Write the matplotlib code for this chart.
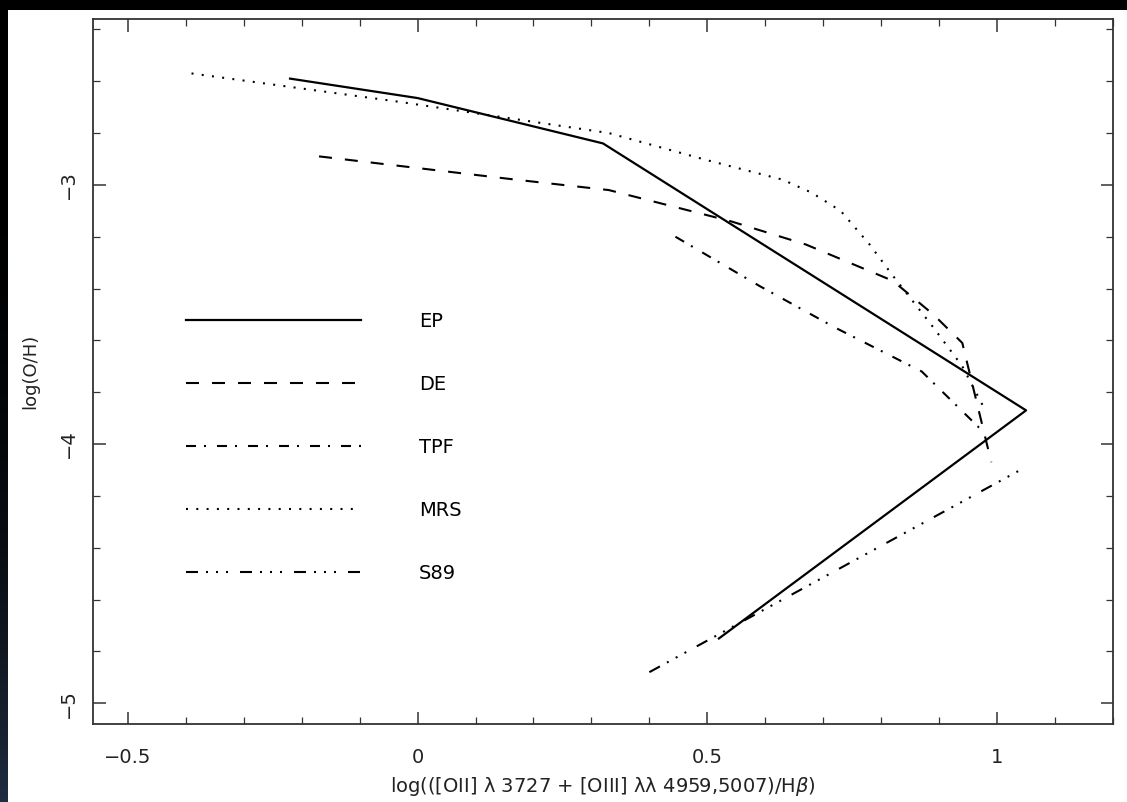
import matplotlib
matplotlib.use('Agg')
import matplotlib.pyplot as plt
from matplotlib.ticker import MultipleLocator, FuncFormatter
from matplotlib.colors import LinearSegmentedColormap
import numpy as np

# calibration curves: log R23 vs log(O/H)
ep_x = [-0.22, 0.0, 0.32, 1.05, 0.52]
ep_y = [-2.59, -2.665, -2.84, -3.87, -4.75]

de_x = [-0.17, 0.17, 0.33, 0.54, 0.67, 0.82, 0.89, 0.94, 0.99]
de_y = [-2.89, -2.98, -3.02, -3.14, -3.23, -3.37, -3.50, -3.61, -4.07]

tpf_x = [0.445, 0.59, 0.72, 0.87, 0.975]
tpf_y = [-3.20, -3.39, -3.55, -3.72, -3.95]

mrs_x = [-0.39, -0.03, 0.33, 0.50, 0.63, 0.68, 0.73, 0.78, 0.82, 0.89, 0.94, 0.975]
mrs_y = [-2.57, -2.68, -2.80, -2.905, -2.98, -3.03, -3.10, -3.23, -3.35, -3.55, -3.70, -3.85]

s89_x = [0.40, 1.04]
s89_y = [-4.88, -4.10]

labels = ['EP', 'DE', 'TPF', 'MRS', 'S89']

plt.rcParams['lines.scale_dashes'] = False
plt.rcParams['font.family'] = 'DejaVu Sans'

W, H = 1127, 802
fig = plt.figure(figsize=(W / 100, H / 100), dpi=100, facecolor='white')

# dark border strips (top and left)
top = fig.add_axes([0, 1 - 10 / H, 1, 10 / H])
top.set_facecolor('black')
top.set_xticks([])
top.set_yticks([])
for s in top.spines.values():
    s.set_visible(False)
left = fig.add_axes([0, 0, 8 / W, 1 - 10 / H])
grad = np.linspace(0, 1, 200).reshape(-1, 1) ** 3
left.imshow(grad, aspect='auto', origin='upper',
            cmap=LinearSegmentedColormap.from_list('strip', ['black', '#1f2d40']))
left.axis('off')

ax = fig.add_axes([93 / W, (H - 724) / H, (1113 - 93) / W, (724 - 19) / H])

px = 0.72  # points per pixel
ax.plot(ep_x, ep_y, color='black', lw=1.6, ls='-', label=labels[0])
ax.plot(de_x, de_y, color='black', lw=1.5, ls=(0, (13 * px, 13 * px)), label=labels[1])
ax.plot(tpf_x, tpf_y, color='black', lw=1.5,
        ls=(0, (10 * px, 8 * px, 2 * px, 11 * px)), label=labels[2])
ax.plot(mrs_x, mrs_y, color='black', lw=1.5, ls=(0, (2 * px, 8.3 * px)), label=labels[3])
ax.plot(s89_x, s89_y, color='black', lw=1.5,
        ls=(0, (12 * px, 8 * px, 2 * px, 8 * px, 2 * px, 8 * px, 2 * px, 12 * px)), label=labels[4])

ax.set_xlim(-0.56, 1.2)
ax.set_ylim(-5.08, -2.36)


def fmt(v, pos):
    if abs(v) < 1e-9:
        return '0'
    return ('%g' % v).replace('-', '\u2212')


ax.xaxis.set_major_locator(MultipleLocator(0.5))
ax.xaxis.set_minor_locator(MultipleLocator(0.1))
ax.yaxis.set_major_locator(MultipleLocator(1))
ax.yaxis.set_minor_locator(MultipleLocator(0.2))
ax.xaxis.set_major_formatter(FuncFormatter(fmt))
ax.yaxis.set_major_formatter(FuncFormatter(fmt))
ax.tick_params(which='both', direction='in', top=True, right=True, labelsize=14,
               color='#333333', labelcolor='#222222')
ax.tick_params(which='major', length=9, width=1.1)
ax.tick_params(which='minor', length=5, width=0.9)
ax.tick_params(axis='x', which='major', pad=17)
ax.tick_params(axis='y', which='major', pad=11)
for t in ax.get_yticklabels():
    t.set_rotation(90)
    t.set_va('center')
for s in ax.spines.values():
    s.set_linewidth(1.3)
    s.set_color('#333333')

ax.set_xlabel('log(([OII] λ 3727 + [OIII] λλ 4959,5007)/H$\\beta$)',
              fontsize=14, labelpad=6, color='#222222')
ax.set_ylabel('log(O/H)', fontsize=13, labelpad=14, color='#222222')

ax.legend(loc='upper left', bbox_to_anchor=((185 - 93) / 1020 - 0.007, (724 - 304) / 705),
          frameon=False, fontsize=14, handlelength=9.0, handletextpad=3.0,
          labelspacing=2.26, borderaxespad=0)

fig.savefig('out.png', dpi=100, facecolor='white')
